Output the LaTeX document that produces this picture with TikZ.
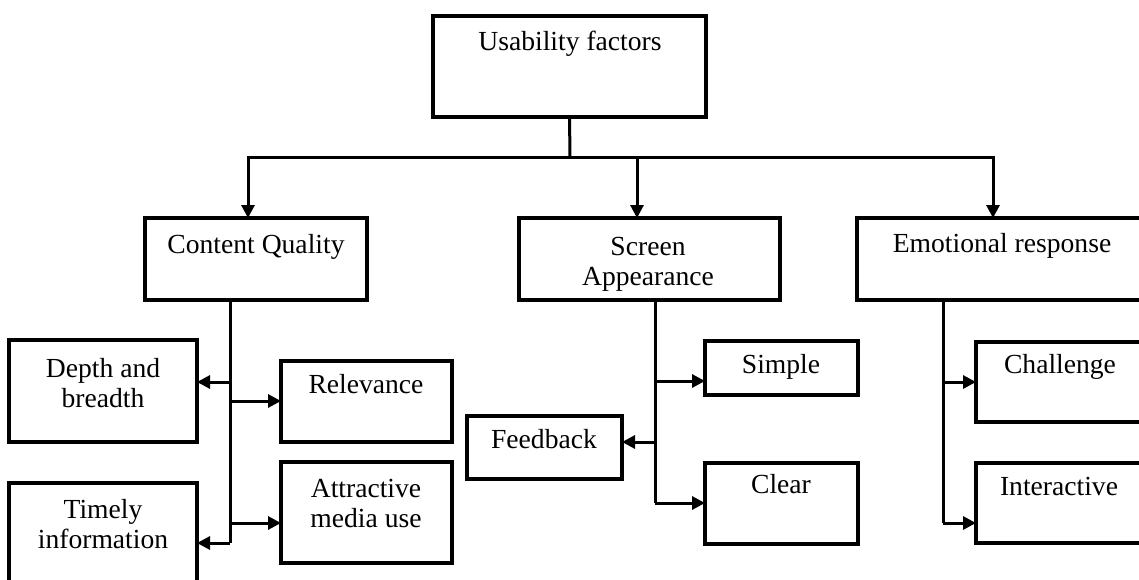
\documentclass[tikz,border=0pt]{standalone}
\usepackage{fontspec}
\setmainfont{Liberation Serif}
\usetikzlibrary{arrows.meta}
\begin{document}
\begin{tikzpicture}[x=1pt,y=-1pt,
  box/.style={draw, line width=3.3pt, rectangle, inner sep=0pt, outer sep=0pt, anchor=north west},
  txt/.style={anchor=base, inner sep=0pt, font=\fontsize{27.6}{30}\selectfont},
  conn/.style={line width=3pt},
  arr/.style={line width=3pt, -{Triangle[length=13pt,width=13pt]}}]
\clip (0,0) rectangle (1139,579);
\fill[white] (0,0) rectangle (1139,579);
% boxes
\node[box, minimum width=273pt, minimum height=101pt] (uf) at (433,16) {};
\node[box, minimum width=222pt, minimum height=82pt] (cq) at (145,218) {};
\node[box, minimum width=261pt, minimum height=82pt] (sa) at (519,218) {};
\node[box, minimum width=290pt, minimum height=82pt] (er) at (857,218) {};
\node[box, minimum width=188pt, minimum height=102pt] (dep) at (9,340) {};
\node[box, minimum width=171pt, minimum height=81pt] (rel) at (281,361) {};
\node[box, minimum width=171pt, minimum height=101pt] (att) at (281,462) {};
\node[box, minimum width=188pt, minimum height=117pt] (tim) at (9,483) {};
\node[box, minimum width=153pt, minimum height=54pt] (sim) at (705,341) {};
\node[box, minimum width=155pt, minimum height=63pt] (fb) at (467,416) {};
\node[box, minimum width=153pt, minimum height=81pt] (clr) at (705,463) {};
\node[box, minimum width=168pt, minimum height=80pt] (ch) at (976,342) {};
\node[box, minimum width=168pt, minimum height=80pt] (int) at (976,463) {};
% texts
\node[txt] (uft) at (570,50) {Usability factors};
\node[txt] (cqt) at (256,253) {Content Quality};
\node[txt] (sat1) at (648,255) {Screen};
\node[txt] (sat2) at (648,285) {Appearance};
\node[txt] (ert) at (1002,252) {Emotional response};
\node[txt] (dept1) at (103,377) {Depth and};
\node[txt] (dept2) at (103,407) {breadth};
\node[txt] (relt) at (366,393) {Relevance};
\node[txt] (attt1) at (366,497) {Attractive};
\node[txt] (attt2) at (366,527) {media use};
\node[txt] (timt1) at (103,518) {Timely};
\node[txt] (timt2) at (103,548) {information};
\node[txt] (simt) at (781,373) {Simple};
\node[txt] (fbt) at (544,448) {Feedback};
\node[txt] (clrt) at (781,493) {Clear};
\node[txt] (cht) at (1060,373) {Challenge};
\node[txt] (intt) at (1059,495) {Interactive};
% top level connectors
\coordinate (j0) at (570,157);
\draw[conn] (uf.south) -- (j0);
\draw[arr] (j0) -| ([xshift=-8pt]cq.north);
\draw[arr] (j0) -| ([xshift=-12.5pt]sa.north);
\draw[arr] (j0) -| ([xshift=-9pt]er.north);
% content quality
\coordinate (lb) at (230,543);
\coordinate (l1) at (230,382);
\coordinate (l2) at (230,401);
\coordinate (l3) at (230,523);
\draw[conn] (cq.south -| lb) -- (lb);
\draw[arr] (l1) -- (l1 -| dep.east);
\draw[arr] (l2) -- (l2 -| rel.west);
\draw[arr] (l3) -- (l3 -| att.west);
\draw[arr] (lb) -- (lb -| tim.east);
% screen appearance
\coordinate (mb) at (655,503);
\coordinate (m1) at (655,381);
\coordinate (m2) at (655,442);
\draw[conn] (sa.south -| mb) -- (mb);
\draw[arr] (m1) -- (m1 -| sim.west);
\draw[arr] (m2) -- (m2 -| fb.east);
\draw[arr] (mb) -- (mb -| clr.west);
% emotional response
\coordinate (rb) at (943,523);
\coordinate (r1) at (943,382);
\draw[conn] (er.south -| rb) -- (rb);
\draw[arr] (r1) -- (r1 -| ch.west);
\draw[arr] (rb) -- (rb -| int.west);
\end{tikzpicture}
\end{document}
